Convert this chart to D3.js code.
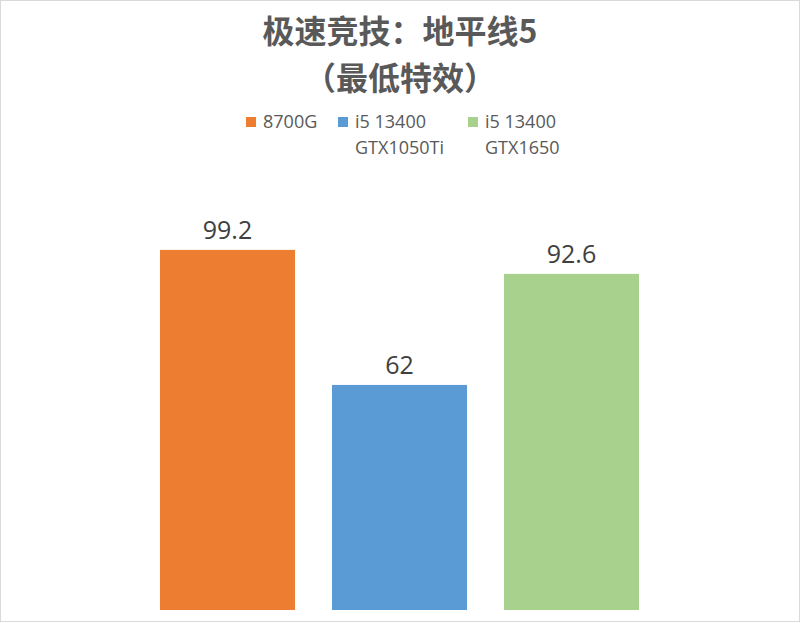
<!DOCTYPE html>
<html>
<head>
<meta charset="utf-8">
<script src="https://cdn.jsdelivr.net/npm/d3@7"></script>
<style>
  html, body { margin: 0; padding: 0; background: #fff; }
  svg { display: block; }
</style>
</head>
<body>
<div id="chart"></div>
<script>
// data
var titleLines = ["极速竞技：地平线5", "（最低特效）"];
var categories = ["8700G", "i5 13400 GTX1050Ti", "i5 13400 GTX1650"];
var legendLines = [["8700G"], ["i5 13400", "GTX1050Ti"], ["i5 13400", "GTX1650"]];
var values = [99.2, 62, 92.6];
var colors = ["#ED7D31", "#5B9BD5", "#A9D18E"];

var width = 800, height = 623;
var cjk = "'Microsoft YaHei', 'Noto Sans CJK SC', sans-serif";
var latin = "'Segoe UI', 'Open Sans', 'Noto Sans', sans-serif";

var svg = d3.select("#chart").append("svg")
    .attr("width", width)
    .attr("height", height);

// outer border
svg.append("rect")
    .attr("x", 0.5).attr("y", 0.5)
    .attr("width", width - 1).attr("height", height - 2)
    .attr("fill", "#fff")
    .attr("stroke", "#d9d9d9");

//title (one text, two lines)
var title = svg.append("text")
    .attr("class", "title")
    .attr("text-anchor", "middle")
    .style("font-family", cjk)
    .style("font-size", "32px")
    .style("font-weight", "bold")
    .style("fill", "#595959");

title.selectAll("tspan")
    .data(titleLines)
    .enter().append("tspan")
    .attr("x", 400)
    .attr("y", function(d, i) { return 43 + i * 47; })
    .text(function(d) { return d; });

// scales
var x = d3.scaleBand()
    .domain(categories)
    .range([141.5, 657.5])
    .paddingInner(0.215)
    .paddingOuter(0.1075);

var y = d3.scaleLinear()
    .domain([0, 120])
    .range([610, 610 - 120 * 3.63]);

// legend
var legendX = [246, 338, 468];
var legend = svg.selectAll(".legend")
    .data(categories)
    .enter().append("g")
    .attr("class", "legend")
    .attr("transform", function(d, i) { return "translate(" + legendX[i] + ",117)"; });

legend.append("rect")
    .attr("width", 10).attr("height", 10)
    .attr("fill", function(d, i) { return colors[i]; });

legend.each(function(d, i) {
    d3.select(this).selectAll("text")
        .data(legendLines[i])
        .enter().append("text")
        .attr("x", 17)
        .attr("y", function(t, j) { return 11 + j * 26; })
        .style("font-family", latin)
        .style("font-size", "18px")
        .style("fill", "#595959")
        .text(function(t) { return t; });
});

// bars
svg.selectAll(".bar")
    .data(values)
    .enter().append("rect")
    .attr("class", "bar")
    .attr("x", function(d, i) { return x(categories[i]); })
    .attr("y", function(d) { return y(d); })
    .attr("width", x.bandwidth())
    .attr("height", function(d) { return y(0) - y(d); })
    .attr("fill", function(d, i) { return colors[i]; });

// value labels
svg.selectAll(".vlabel")
    .data(values)
    .enter().append("text")
    .attr("class", "vlabel")
    .attr("x", function(d, i) { return x(categories[i]) + x.bandwidth() / 2; })
    .attr("y", function(d) { return y(d) - 11; })
    .attr("text-anchor", "middle")
    .style("font-family", latin)
    .style("font-size", "25px")
    .style("fill", "#404040")
    .text(function(d) { return d; });
</script>
</body>
</html>
